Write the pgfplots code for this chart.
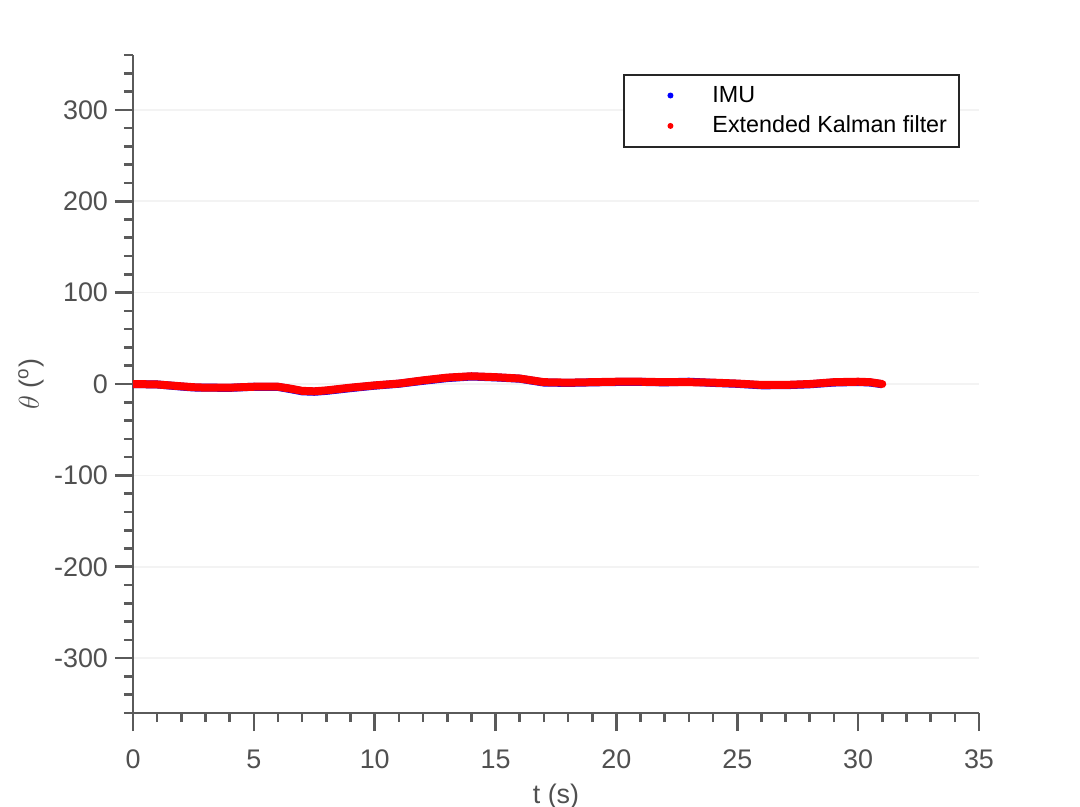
\documentclass[border=0pt]{standalone}
\usepackage{pgfplots}
\pgfplotsset{compat=1.18}
\usepackage{fontspec}
\setmainfont{Liberation Sans}
\definecolor{axgray}{RGB}{90,90,90}
\definecolor{lblgray}{RGB}{80,80,80}
\definecolor{gridgray}{RGB}{243,243,243}

\begin{document}
\begin{tikzpicture}
\useasboundingbox (-66.5bp,-47bp) rectangle (473.5bp,356.5bp);
\begin{axis}[
    scale only axis,
    width=423bp, height=329bp,
    xmin=0, xmax=35, ymin=-360, ymax=360,
    axis lines=left,
    axis line style={-, axgray, line width=1.3bp},
    every tick/.style={axgray, line width=1.3bp},
    tick align=outside,
    major tick length=9bp,
    minor tick length=4.5bp,
    xtick={0,5,...,35},
    ytick={-300,-200,...,300},
    minor xtick={0,1,...,35},
    minor ytick={-360,-340,...,360},
    ymajorgrids,
    major grid style={gridgray, line width=0.8bp},
    tick label style={font=\fontsize{13.5}{15}\selectfont, text=lblgray},
    xticklabel style={yshift=-6bp},
    /pgf/number format/assume math mode=true,
    xlabel={t (s)},
    ylabel={$\theta$ (\textsuperscript{o})},
    label style={font=\fontsize{13.5}{15}\selectfont, text=lblgray},
    xlabel style={yshift=-0.5bp},
    ylabel style={yshift=-2bp},
    legend style={at={(1,1)}, anchor=north east, xshift=-9.5bp, yshift=-9.5bp,
      draw={rgb,255:red,38;green,38;blue,38}, line width=1bp,
      font=\fontsize{11.7}{13}\selectfont, inner xsep=4bp, inner ysep=3.5bp,
      row sep=1.5bp},
    legend cell align=left,
    legend image code/.code={\path[draw=none,fill=none] (0bp,0) -- (38bp,0);
      \fill[#1, draw=none] (19bp,0) circle (1.5bp);},
]
\addplot[blue, line width=4bp] coordinates {
(0,0) (1,-0.5) (2,-2.8) (2.5,-3.8) (3,-4) (4,-4.2) (5,-3) (6,-3.2) (6.5,-5.5)
(7,-8) (7.5,-8.5) (8,-7.5) (9,-4.5) (10,-1.8) (11,0.3) (12,3.5) (13,6.5)
(14,8.2) (15,7.2) (16,5.8) (17,1.6) (18,1.2) (19,1.8) (20,2.2) (21,2.3)
(22,1.8) (23,2.5) (24,1.2) (25,0.2) (26,-1.4) (27,-1.3) (28,-0.3) (29,1.6)
(30,2.2) (30.5,1.6) (31,-0.3)
};
\addlegendentry{IMU}
\addplot[red, line width=4bp, line cap=round] coordinates {
(0,0) (1,-0.5) (2,-2.5) (2.5,-3.5) (3,-4) (4,-4) (5,-3) (6,-3) (6.5,-5)
(7,-7.5) (7.5,-8) (8,-7) (9,-4) (10,-1.5) (11,0.5) (12,4) (13,7)
(14,8.5) (15,7.5) (16,6) (17,2) (18,1.5) (19,2) (20,2.5) (21,2.5)
(22,2) (23,2) (24,1.5) (25,0.5) (26,-1) (27,-1) (28,0) (29,2)
(30,2.5) (30.5,2) (31,0)
};
\addlegendentry{Extended Kalman filter}
\end{axis}
\end{tikzpicture}
\end{document}
